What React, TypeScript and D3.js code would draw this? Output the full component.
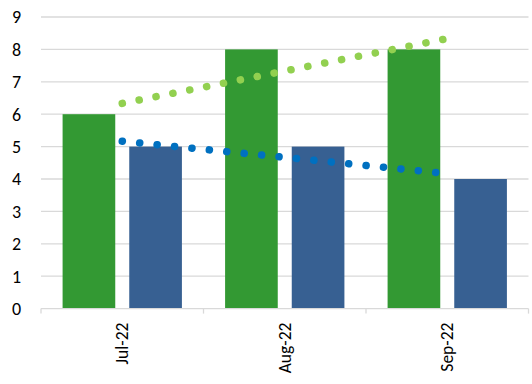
import React from "react";
import * as d3 from "d3";

const categories = ["Jul-22", "Aug-22", "Sep-22"];
const seriesA = [6, 8, 8];
const seriesB = [5, 5, 4];
const yTicks = [0, 1, 2, 3, 4, 5, 6, 7, 8, 9];

const W = 532, H = 384;
const left = 41, right = 528.5, top = 17, bottom = 308.6;

function trend(vals: number[]) {
  const xs = vals.map((_, i) => i + 1);
  const mx = d3.mean(xs)!;
  const my = d3.mean(vals)!;
  const slope = d3.sum(xs.map((x, i) => (x - mx) * (vals[i] - my))) / d3.sum(xs.map((x) => (x - mx) ** 2));
  return xs.map((x) => my + slope * (x - mx));
}

export default function App() {
  const x = d3.scaleBand<string>().domain(categories).range([left, right]).paddingInner(0).paddingOuter(0);
  const inner = d3.scaleBand<string>().domain(["a", "b"]).range([0, x.bandwidth()]).paddingInner(0.21).paddingOuter(0.324);
  const y = d3.scaleLinear().domain([0, 9]).range([bottom, top]);
  const trA = trend(seriesA);
  const trB = trend(seriesB);
  const line = d3
    .line<number>()
    .x((_, i) => x(categories[i])! + x.bandwidth() / 2)
    .y((d) => y(d));
  const font = "Carlito, Calibri, 'Open Sans', sans-serif";
  return (
    <svg width={W} height={H} style={{ position: "absolute", left: 0, top: 0, background: "#fff" }}>
      {yTicks.map((t) => (
        <g key={t}>
          {t > 0 && <line x1={left} x2={right} y1={y(t)} y2={y(t)} stroke="#d9d9d9" strokeWidth={1.3} />}
          <text x={21} y={y(t)} dy="0.35em" textAnchor="end" fontFamily={font} fontSize={18} fill="#000">
            {t}
          </text>
        </g>
      ))}
      {categories.map((c, i) => (
        <g key={c}>
          <rect x={x(c)! + inner("a")!} y={y(seriesA[i])} width={inner.bandwidth()} height={bottom - y(seriesA[i])} fill="#339933" />
          <rect x={x(c)! + inner("b")!} y={y(seriesB[i])} width={inner.bandwidth()} height={bottom - y(seriesB[i])} fill="#376092" />
        </g>
      ))}
      <line x1={left} x2={right} y1={bottom} y2={bottom} stroke="#d9d9d9" strokeWidth={1.3} />
      {[...categories.map((c) => x(c)!), right].map((v, i) => (
        <line key={i} x1={v} x2={v} y1={bottom} y2={bottom + 5} stroke="#d9d9d9" strokeWidth={1.3} />
      ))}
      <path d={line(trA)!} fill="none" stroke="#92d050" strokeWidth={7.5} strokeLinecap="round" strokeDasharray="0.1 17.1" />
      <path d={line(trB)!} fill="none" stroke="#0070c0" strokeWidth={7.5} strokeLinecap="round" strokeDasharray="0.1 17.4" />
      {categories.map((c) => (
        <text
          key={c}
          transform={`translate(${x(c)! + x.bandwidth() / 2 + 6},${bottom + 14}) rotate(-90)`}
          textAnchor="end"
          fontFamily={font}
          fontSize={17.5}
          fill="#000"
        >
          {c}
        </text>
      ))}
    </svg>
  );
}
